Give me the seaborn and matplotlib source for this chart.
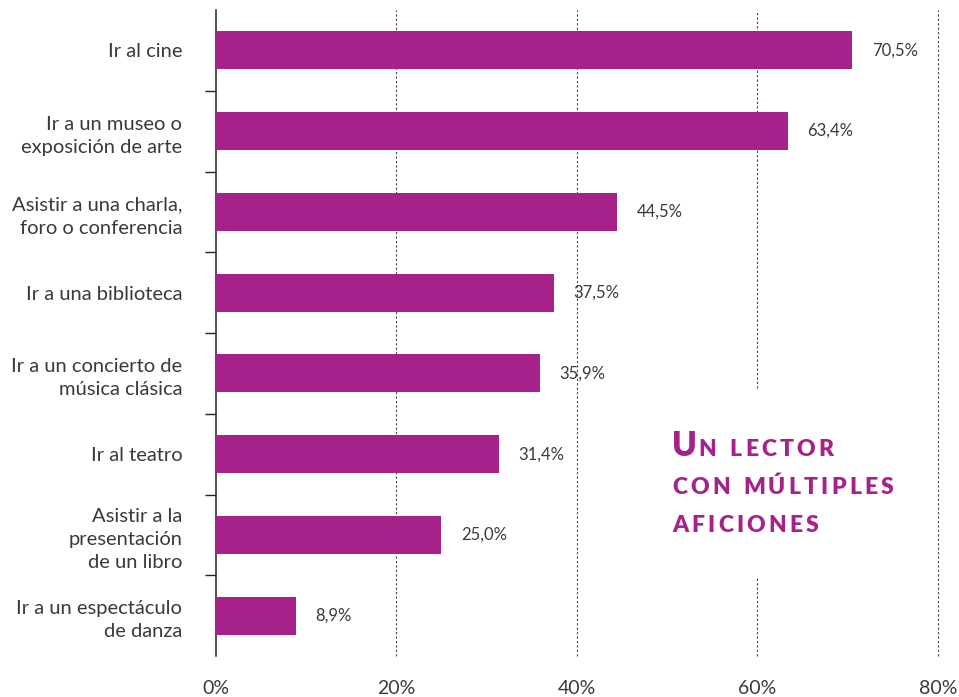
import matplotlib
matplotlib.use("Agg")
import matplotlib.pyplot as plt
import matplotlib.transforms as mtransforms
import seaborn as sns
import pandas as pd

categorias = [
    "Ir al cine",
    "Ir a un museo o\nexposición de arte",
    "Asistir a una charla,\nforo o conferencia",
    "Ir a una biblioteca",
    "Ir a un concierto de\nmúsica clásica",
    "Ir al teatro",
    "Asistir a la\npresentación\nde un libro",
    "Ir a un espectáculo\nde danza",
]
porcentajes = [70.5, 63.4, 44.5, 37.5, 35.9, 31.4, 25.0, 8.9]
xticks = [0, 20, 40, 60, 80]
xtick_labels = ["0%", "20%", "40%", "60%", "80%"]
titulo = ["N LECTOR", "CON MÚLTIPLES", "AFICIONES"]

MAGENTA = "#A7218B"
GRIS = "#3a3a3a"

sns.set_theme(style="white")
plt.rcParams["font.family"] = ["Lato", "DejaVu Sans"]

W, H = 959, 697
fig = plt.figure(figsize=(W / 100, H / 100), dpi=100)
ax = fig.add_axes([215.5 / W, 1 - 656 / H, (938 - 215.5) / W, (656 - 10) / H])

df = pd.DataFrame({"actividad": categorias, "pct": porcentajes})
sns.barplot(data=df, x="pct", y="actividad", orient="h", color=MAGENTA,
            saturation=1, width=0.47, linewidth=0, ax=ax, zorder=3)

# dotted gridlines, the 60% one is interrupted behind the title block
grid_kw = dict(color="#444444", lw=0.8, ls=(0, (2, 2)), zorder=1, clip_on=False)
for xv in [20, 40, 80]:
    ax.axvline(xv, **grid_kw)
ax.axvline(60, ymin=0, ymax=0.121, **grid_kw)
ax.axvline(60, ymin=0.415, ymax=1, **grid_kw)

ax.set_xlim(0, 80)
ax.set_ylim(len(categorias) - 0.5, -0.5)
ax.set_xticks(xticks)
ax.set_xticklabels(xtick_labels, fontsize=14, color=GRIS)
ax.set_xlabel("")
ax.set_ylabel("")
ax.tick_params(axis="x", length=0, pad=17)
ax.tick_params(axis="y", which="major", length=0, pad=24, labelsize=14.5, labelcolor=GRIS)
ax.set_yticks([i + 0.5 for i in range(len(categorias) - 1)], minor=True)
ax.tick_params(axis="y", which="minor", length=8, width=1, color="#222222", direction="out", left=True)
for lbl in ax.get_yticklabels():
    lbl.set_horizontalalignment("right")
    lbl.set_multialignment("right")
    lbl.set_linespacing(1.45)

for side in ["top", "right", "bottom"]:
    ax.spines[side].set_visible(False)
ax.spines["left"].set_color("#222222")
ax.spines["left"].set_linewidth(1.1)

ax.bar_label(ax.containers[0],
             labels=[f"{v:.1f}".replace(".", ",") + "%" for v in porcentajes],
             padding=14, fontsize=12, color=GRIS)

# small-caps title with letter spacing, drawn letter by letter
fig.canvas.draw()
renderer = fig.canvas.get_renderer()
ident = mtransforms.IdentityTransform()


def tracked(x, y, s, size, tracking):
    for ch in s:
        if ch == " ":
            x += size * 0.6
            continue
        t = fig.text(x, y, ch, transform=ident, fontsize=size, fontweight="heavy",
                     color=MAGENTA, va="baseline", ha="left")
        x += t.get_window_extent(renderer).width + tracking
    return x


x0 = 672
xu = tracked(x0, H - 456, "U", 24, 2)
tracked(xu, H - 456, titulo[0], 16.5, 3.2)
tracked(x0, H - 494, titulo[1], 16.5, 3.2)
tracked(x0, H - 532, titulo[2], 16.5, 3.2)

fig.savefig("out.png", dpi=100)
